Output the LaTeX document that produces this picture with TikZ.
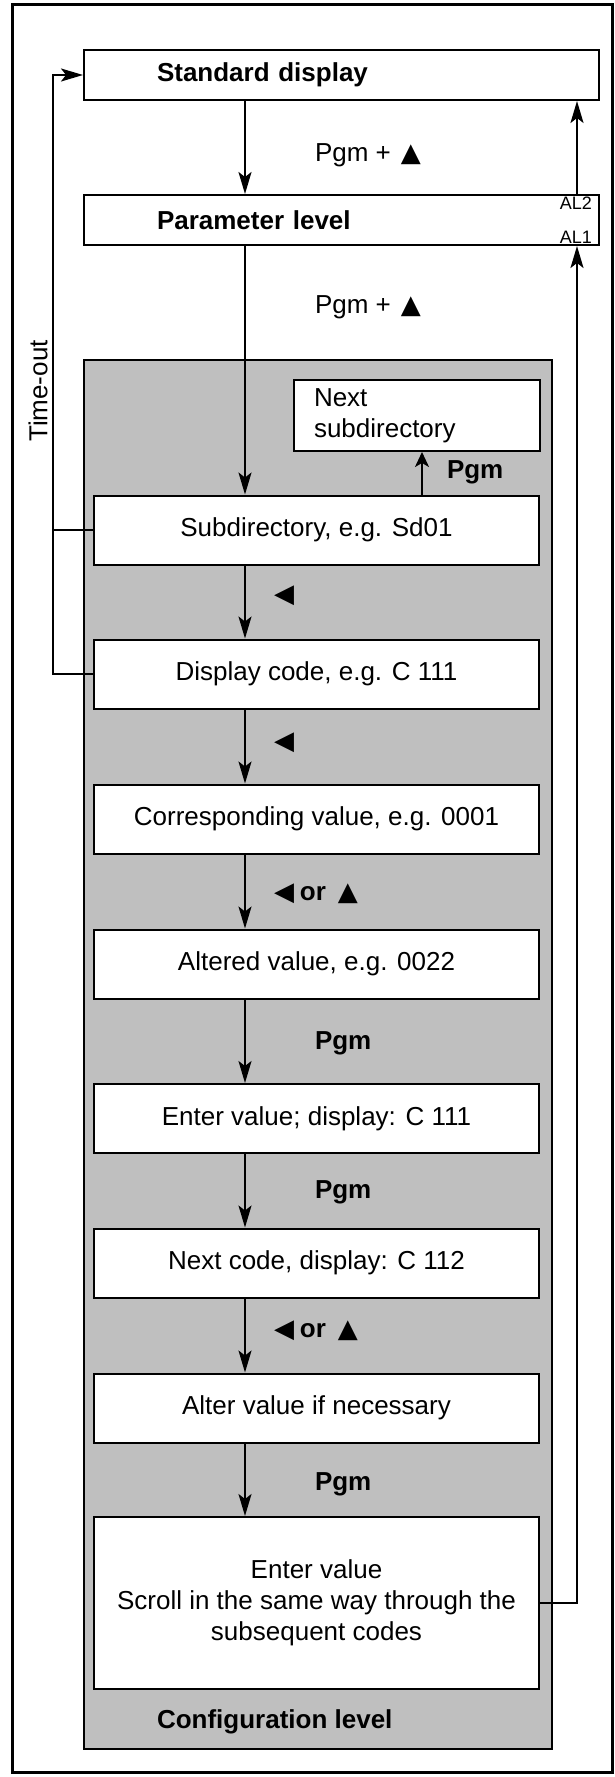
\documentclass[tikz,border=0pt]{standalone}
\usepackage{fontspec}
\setmainfont{Liberation Sans}
\newfontfamily\symfont{DejaVu Sans}
\usetikzlibrary{arrows.meta}
\newcommand{\basefont}{\fontsize{13}{15.5}\selectfont}
\newcommand{\uptri}{{\symfont ▲}}
\newcommand{\lefttri}{{\symfont ◀}}
\begin{document}
\begin{tikzpicture}[x=0.5pt,y=-0.5pt,line width=1pt,font=\basefont,
    levelbox/.style={rectangle,draw,fill=white,inner xsep=36.5pt,inner ysep=0pt,
      text width=184.5pt,minimum height=25pt,align=left,font=\basefont\bfseries},
    stepbox/.style={rectangle,draw,fill=white,inner sep=0pt,
      minimum width=222.5pt,minimum height=34.5pt,align=center},
    cfgbox/.style={rectangle,draw,fill=black!25,inner sep=0pt,
      minimum width=234pt,minimum height=694.5pt},
    arr/.style={-{Stealth[length=11pt,width=6.5pt,inset=2.5pt]}},
    smallarr/.style={-{Stealth[length=7.5pt,width=7pt,inset=2pt]}},
    lbl/.style={anchor=west,inner sep=0pt}]
  \useasboundingbox (0,0) rectangle (615,1777);
  \draw[line width=1.5pt] (12,5) rectangle (612,1772);

  % configuration level
  \node[cfgbox] (cfg) at (318,1054.5) {};
  \node[lbl,font=\basefont\bfseries] (cfgtxt) at (156,1722) {Configuration level};

  % levels
  \node[levelbox] (std) at (341.5,75) {Standard display};
  \node[levelbox] (param) at (341.5,220) {Parameter level};
  \node[anchor=east,inner sep=0pt,font=\fontsize{9}{10}\selectfont] (al2) at (593,203) {AL2};
  \node[anchor=east,inner sep=0pt,font=\fontsize{9}{10}\selectfont] (al1) at (593,237) {AL1};

  \node[rectangle,draw,fill=white,inner xsep=10pt,inner ysep=0pt,text width=103pt,
    minimum height=35.5pt,align=left] (nextsub) at (417,415.5) {Next\\subdirectory};
  \node[stepbox] (sub) at (316.5,530) {Subdirectory, e.g. Sd01};
  \node[stepbox] (disp) at (316.5,674) {Display code, e.g. C 111};
  \node[stepbox] (corr) at (316.5,819) {Corresponding value, e.g. 0001};
  \node[stepbox] (alt) at (316.5,964) {Altered value, e.g. 0022};
  \node[stepbox] (ent) at (316.5,1118.5) {Enter value; display: C 111};
  \node[stepbox] (next) at (316.5,1263) {Next code, display: C 112};
  \node[stepbox] (alter) at (316.5,1408) {Alter value if necessary};
  \node[stepbox,minimum height=86pt] (big) at (316.5,1603)
    {Enter value\\Scroll in the same way through the\\subsequent codes};

  % key labels
  \node[lbl] (k1) at (314,155) {Pgm +\hspace{5pt}\uptri};
  \node[lbl] (k2) at (314,307) {Pgm +\hspace{5pt}\uptri};
  \node[lbl,font=\basefont\bfseries] (k3) at (446,472) {Pgm};
  \node[lbl] (k4) at (273,596) {\lefttri};
  \node[lbl] (k5) at (273,743) {\lefttri};
  \node[lbl] (k6) at (273,894) {\lefttri\hspace{3pt}\textbf{or}\hspace{6pt}\uptri};
  \node[lbl,font=\basefont\bfseries] (k7) at (314,1043) {Pgm};
  \node[lbl,font=\basefont\bfseries] (k8) at (314,1192) {Pgm};
  \node[lbl] (k9) at (273,1331) {\lefttri\hspace{3pt}\textbf{or}\hspace{6pt}\uptri};
  \node[lbl,font=\basefont\bfseries] (k10) at (314,1484) {Pgm};
  \node[rotate=90,inner sep=0pt] (timeout) at (38,391) {Time-out};

  % connectors
  \coordinate (spine) at (245,0);
  \coordinate (ret) at (577,0);
  \coordinate (tox) at (53,0);
  \coordinate (upx) at (422,0);
  \draw[arr] (std.south -| spine) -- (param.north -| spine);
  \draw[arr] (param.south -| spine) -- (sub.north -| spine);
  \foreach \a/\b in {sub/disp,disp/corr,corr/alt,alt/ent,ent/next,next/alter,alter/big}
    \draw[arr] (\a.south -| spine) -- (\b.north -| spine);
  \draw[smallarr] (sub.north -| upx) -- (nextsub.south -| upx);
  \draw[arr] (big.east) -- (big.east -| ret) -- (param.south -| ret);
  \draw[arr] (param.north -| ret) -- (std.south -| ret);
  \draw (sub.west) -- (sub.west -| tox);
  \draw[arr] (disp.west) -- (disp.west -| tox) -- (std.west -| tox) -- (std.west);
\end{tikzpicture}
\end{document}
